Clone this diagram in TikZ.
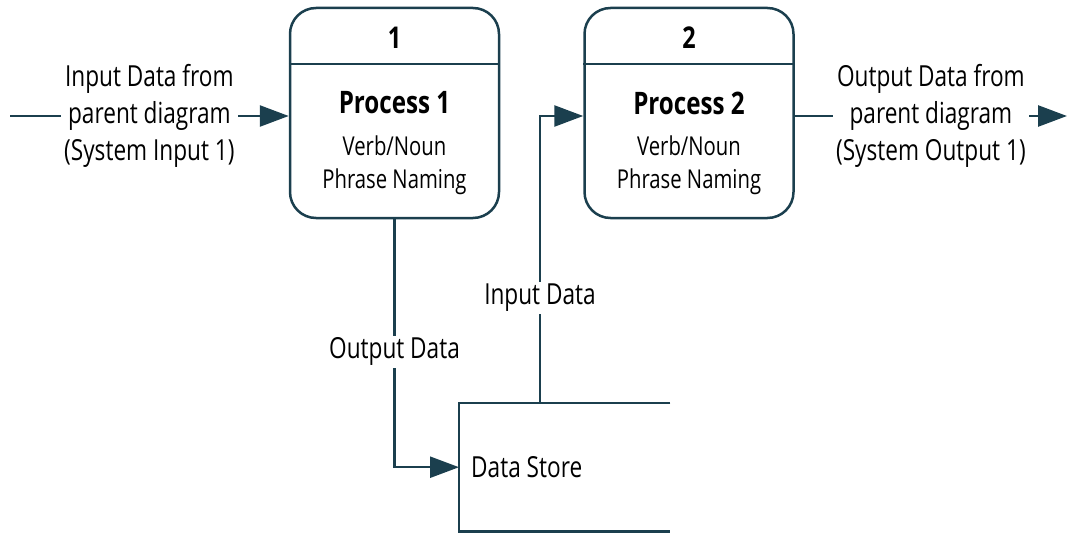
\documentclass[tikz,border=0pt]{standalone}
\usepackage{fontspec}
\setmainfont{Open Sans}[FakeStretch=0.78]
\usetikzlibrary{arrows.meta,calc}
\definecolor{ink}{HTML}{1B3F4E}
\tikzset{
  flow/.style={draw=ink, line width=2.5pt, -{Triangle[length=29pt,width=21pt]}},
  edge/.style={draw=ink, line width=2.5pt},
  proc/.style={draw=ink, line width=2.5pt, rounded corners=26pt, minimum width=209pt, minimum height=210pt, inner sep=0pt},
  lbl/.style={fill=white, align=center, font=\fontsize{29}{37}\selectfont, inner sep=3pt, text=black},
  numtxt/.style={font=\fontsize{30}{34}\bfseries\selectfont, text=black},
  titletxt/.style={font=\fontsize{31}{34}\bfseries\selectfont, text=black},
  subtxt/.style={font=\fontsize{26}{33}\selectfont, align=center, text=black},
}
\begin{document}
\begin{tikzpicture}[x=1pt,y=-1pt]
\useasboundingbox (0,0) rectangle (1073,535);
% process boxes
\node[proc] (p1) at (394.5,113) {};
\node[proc] (p2) at (689,113) {};
\draw[edge] (p1.west |- 0,64) -- (p1.east |- 0,64);
\draw[edge] (p2.west |- 0,64) -- (p2.east |- 0,64);
\node[numtxt] (n1) at (394.5,38) {1};
\node[numtxt] (n2) at (689,38) {2};
\node[titletxt] (t1) at (394.5,103) {Process 1};
\node[titletxt] (t2) at (689,103) {Process 2};
\node[subtxt] (s1) at (394.5,165) {Verb/Noun\\Phrase Naming};
\node[subtxt] (s2) at (689,165) {Verb/Noun\\Phrase Naming};
% data store
\node[minimum width=211pt, minimum height=128pt, inner sep=0pt, anchor=north west] (ds) at (459,403) {};
\draw[edge] (ds.north east) -- (ds.north west) -- (ds.south west) -- (ds.south east);
\node[anchor=west, font=\fontsize{29}{34}\selectfont, inner sep=0pt] (dst) at ($(ds.west)+(12,0)$) {Data Store};
% external flows
\coordinate (in1) at (10,116);
\coordinate (out1) at (1067,116);
\draw[flow] (in1) -- node[lbl] {Input Data from\\parent diagram\\(System Input 1)} (in1 -| p1.west);
\draw[flow] (p2.east |- out1) -- node[lbl] {Output Data from\\parent diagram\\(System Output 1)} (out1);
% internal flows
\draw[flow] (p1.south) |- node[lbl, pos=0.267, inner sep=2pt] {Output Data} (ds.west);
\coordinate (dstop) at (540,403);
\draw[flow] (dstop) |- node[lbl, pos=0.183, inner sep=2pt] {Input Data} (p2.west |- in1);
\end{tikzpicture}
\end{document}
